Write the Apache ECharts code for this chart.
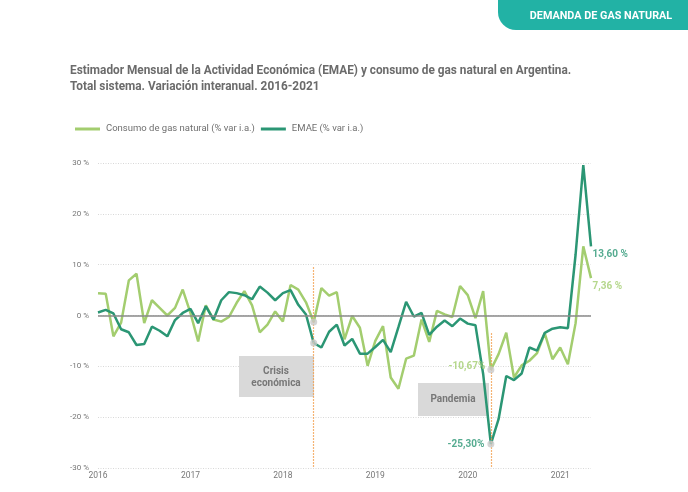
<!DOCTYPE html>
<html>
<head>
<meta charset="utf-8">
<script src="https://cdn.jsdelivr.net/npm/echarts@6/dist/echarts.min.js"></script>
<style>
    html,body{margin:0;padding:0;background:#fff;}
    #chart{width:688px;height:492px;}
</style>
</head>
<body>
<div id="chart"></div>
<script>
// años del eje x (etiqueta en cada enero)
var years = ['2016', '2017', '2018', '2019', '2020', '2021'];
var lastMonth = 5; // la serie termina en mayo 2021

// Consumo de gas natural (% var i.a.), ene-2016 .. may-2021
var gasData = [
    4.4, 4.3, -4.1, -1.4, 6.9, 8.2, -1.5, 3.0, 1.5, 0.0, 1.5, 5.1,
    0.5, -5.1, 2.0, -0.8, -1.2, -0.3, 2.5, 4.8, 2.0, -3.3, -1.8, 0.8,
    -1.2, 6.0, 5.1, 2.6, -1.3, 5.4, 3.9, 4.6, -4.7, -0.1, -2.4, -9.9,
    -5.0, -2.1, -12.2, -14.4, -8.5, -7.9, -0.8, -5.2, 0.9, 0.2, -0.3, 5.8,
    4.0, -0.5, 4.8, -10.67, -7.6, -3.4, -12.2, -9.8, -8.9, -7.4, -3.5, -8.6,
    -6.3, -9.6, -1.5, 13.6, 7.36
];

// EMAE (% var i.a.), ene-2016 .. may-2021
var emaeData = [
    0.6, 1.1, 0.4, -2.7, -3.3, -5.8, -5.6, -2.2, -3.0, -4.1, -0.9, 0.5,
    1.3, -1.5, 1.8, -0.8, 3.0, 4.6, 4.4, 4.0, 3.2, 5.7, 4.5, 3.0,
    4.4, 5.0, 2.1, 0.2, -5.4, -6.3, -3.2, -1.8, -5.9, -4.6, -7.5, -7.5,
    -6.2, -4.8, -7.2, -2.3, 2.7, -0.2, 0.5, -3.8, -2.2, -1.0, -2.1, -0.6,
    -1.6, -1.9, -11.5, -25.3, -20.4, -11.9, -12.7, -11.4, -6.3, -6.9, -3.4, -2.6,
    -2.3, -2.5, 12.0, 29.6, 13.6
];

// marcas: crisis (may-2018) y pandemia (abr-2020)
var crisisIdx = 28;
var pandemiaIdx = 51;

var gasColor = '#a3cd6f';
var emaeColor = '#2b9674';
var markColor = '#f29b45';
var gasName = 'Consumo de gas natural (% var i.a.)';
var emaeName = 'EMAE (% var i.a.)';
var font = 'Roboto';

var months = [];
years.forEach(function(y, i){
    var n = (i === years.length - 1) ? lastMonth : 12;
    for (var m = 1; m <= n; m++) {
        months.push(y + '-' + (m < 10 ? '0' + m : m));
    }
});

function fmt(v){
    return v.toFixed(2).replace('.', ',');
}

var last = months.length - 1;
var markStyle = { type: [1.5, 1.5], color: markColor, width: 1.2 };

var myChart = echarts.init(document.getElementById('chart'));

var option = {
    animation: false,
    textStyle: { fontFamily: font },
    grid: { left: 98, right: 97, top: 163, bottom: 24 },
    legend: {
        data: [gasName, emaeName],
        left: 70,
        top: 119,
        icon: 'rect',
        itemWidth: 25,
        itemHeight: 3,
        itemGap: 6,
        textStyle: { fontFamily: font, fontSize: 9.5, color: '#6f6f6f', padding: [0, 0, 0, 1] }
    },
    xAxis: {
        type: 'category',
        data: months,
        boundaryGap: false,
        axisLine: { show: false },
        axisTick: { show: false },
        axisLabel: {
            interval: function(idx){ return idx % 12 === 0; },
            formatter: function(v){ return v.slice(0, 4); },
            color: '#777',
            fontSize: 8.5,
            margin: 3
        },
        splitLine: { show: false }
    },
    yAxis: {
        type: 'value',
        min: -30,
        max: 30,
        interval: 10,
        axisLabel: {
            formatter: '{value} %',
            color: '#777',
            fontSize: 8,
            margin: 9
        },
        splitLine: { lineStyle: { type: [1, 1.5], color: '#d8d8d8', width: 1 } }
    },
    series: [
        {
            name: gasName,
            type: 'line',
            data: gasData,
            symbol: 'none',
            z: 3,
            color: gasColor,
            lineStyle: { width: 2.5, color: gasColor },
            markLine: {
                silent: true,
                symbol: 'none',
                label: { show: false },
                lineStyle: { type: 'solid', color: '#8a8a8a', width: 1.5 },
                data: [{ yAxis: 0 }]
            }
        },
        {
            name: emaeName,
            type: 'line',
            data: emaeData,
            symbol: 'none',
            z: 4,
            color: emaeColor,
            lineStyle: { width: 2.5, color: emaeColor }
        },
        {
            // lineas verticales y puntos grises
            name: 'marcas',
            type: 'scatter',
            z: 5,
            symbolSize: 7,
            itemStyle: { color: '#c9c9c9' },
            data: [
                [crisisIdx, gasData[crisisIdx]],
                [crisisIdx, emaeData[crisisIdx]],
                {
                    value: [pandemiaIdx, gasData[pandemiaIdx]],
                    label: { show: true, position: 'left', distance: 2, offset: [0, -3], formatter: fmt(gasData[pandemiaIdx]) + '%', color: gasColor, fontWeight: 'bold', fontSize: 10 }
                },
                {
                    value: [pandemiaIdx, emaeData[pandemiaIdx]],
                    label: { show: true, position: 'left', distance: 3, offset: [0, 0], formatter: fmt(emaeData[pandemiaIdx]) + '%', color: emaeColor, fontWeight: 'bold', fontSize: 10 }
                }
            ],
            markLine: {
                silent: true,
                symbol: 'none',
                label: { show: false },
                lineStyle: markStyle,
                data: [
                    [{ coord: [crisisIdx, 9.5], lineStyle: markStyle }, { coord: [crisisIdx, -30] }],
                    [{ coord: [pandemiaIdx, -3.5], lineStyle: markStyle }, { coord: [pandemiaIdx, -30] }]
                ]
            }
        },
        {
            // etiquetas finales
            name: 'finales',
            type: 'scatter',
            z: 5,
            symbolSize: 1,
            itemStyle: { color: 'rgba(0,0,0,0)' },
            data: [
                {
                    value: [last, emaeData[last]],
                    label: { show: true, position: 'right', distance: 1, offset: [0, 8], formatter: fmt(emaeData[last]) + ' %', color: emaeColor, fontWeight: 'bold', fontSize: 10 }
                },
                {
                    value: [last, gasData[last]],
                    label: { show: true, position: 'right', distance: 1, offset: [0, 8], formatter: fmt(gasData[last]) + ' %', color: gasColor, fontWeight: 'bold', fontSize: 10 }
                }
            ]
        }
    ],
    graphic: [
        // pestaña superior
        {
            type: 'rect',
            shape: { x: 498, y: -10, width: 200, height: 40, r: [0, 0, 0, 18] },
            style: { fill: '#22b2a5' }
        },
        {
            type: 'text',
            x: 601,
            y: 16,
            scaleX: 0.94,
            style: { text: 'DEMANDA DE GAS NATURAL', fill: '#fff', fontFamily: font, fontWeight: 'bold', fontSize: 11.5, align: 'center', verticalAlign: 'middle' }
        },
        // titulo
        {
            type: 'text',
            x: 70,
            y: 63,
            scaleX: 0.875,
            style: {
                text: 'Estimador Mensual de la Actividad Económica (EMAE) y consumo de gas natural en Argentina.\nTotal sistema. Variación interanual. 2016-2021',
                fill: '#6b6b6b', fontFamily: font, fontWeight: 'bold', fontSize: 13.5, lineHeight: 16
            }
        },
        // cajas de anotacion
        {
            type: 'rect',
            z: 1,
            shape: { x: 239, y: 356, width: 75, height: 41 },
            style: { fill: '#d9d9d9' }
        },
        {
            type: 'text',
            z: 1,
            x: 276,
            y: 377,
            style: { text: 'Crisis\neconómica', fill: '#777', fontFamily: font, fontWeight: 'bold', fontSize: 10, lineHeight: 12, align: 'center', verticalAlign: 'middle' }
        },
        {
            type: 'rect',
            z: 1,
            shape: { x: 418, y: 383, width: 71, height: 33 },
            style: { fill: '#d9d9d9' }
        },
        {
            type: 'text',
            z: 1,
            x: 453,
            y: 399,
            style: { text: 'Pandemia', fill: '#777', fontFamily: font, fontWeight: 'bold', fontSize: 10, align: 'center', verticalAlign: 'middle' }
        }
    ]
};

myChart.setOption(option);
</script>
</body>
</html>
